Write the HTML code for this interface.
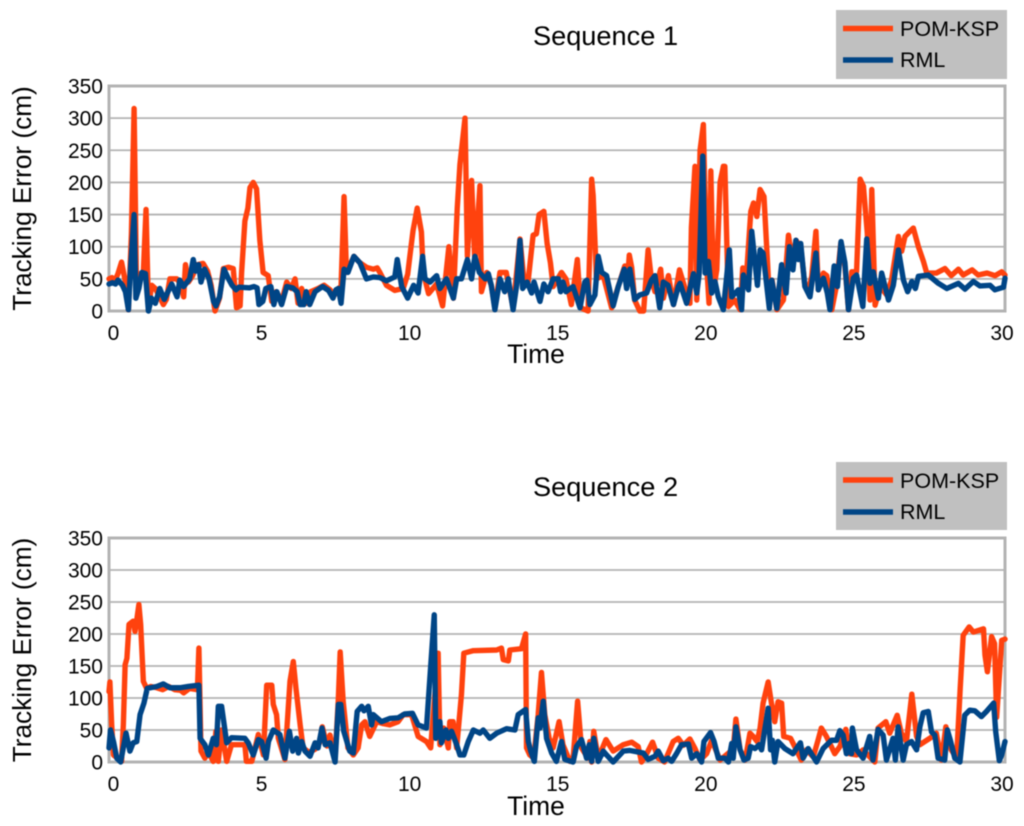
<!DOCTYPE html>
<html lang="en">
<head>
<meta charset="utf-8">
<title>Tracking Error Charts</title>
<style>
html,body{margin:0;padding:0;background:#fff;}
svg{display:block;font-family:"Liberation Sans",Arial,sans-serif;fill:#000;filter:blur(0.4px);}
</style>
</head>
<body>
<svg id="figure" xmlns="http://www.w3.org/2000/svg" width="1024" height="826" viewBox="0 0 1024 826">
  <g id="chart1">
    <text x="605.5" y="45" font-size="27.2" text-anchor="middle">Sequence 1</text>
    <text transform="translate(31,198.5) rotate(-90)" font-size="26.2" text-anchor="middle">Tracking Error (cm)</text>
    <text x="536" y="363" font-size="26.4" text-anchor="middle">Time</text>
    <g id="plot1"></g>
    <g>
      <rect x="836" y="10" width="171" height="69" fill="#c0c0c0"></rect>
      <line x1="843" x2="893" y1="28.5" y2="28.5" stroke="#ff420e" stroke-width="5.5"></line>
      <text x="900" y="36" font-size="21.5">POM-KSP</text>
      <line x1="843" x2="893" y1="60" y2="60" stroke="#004586" stroke-width="5.5"></line>
      <text x="900" y="67" font-size="21.5">RML</text>
    </g>
  </g>
  <g id="chart2">
    <text x="605.5" y="496" font-size="27.2" text-anchor="middle">Sequence 2</text>
    <text transform="translate(31,650) rotate(-90)" font-size="26.2" text-anchor="middle">Tracking Error (cm)</text>
    <text x="536" y="815" font-size="26.4" text-anchor="middle">Time</text>
    <g id="plot2"></g>
    <g>
      <rect x="836" y="462" width="171" height="68" fill="#c0c0c0"></rect>
      <line x1="843" x2="893" y1="480" y2="480" stroke="#ff420e" stroke-width="5.5"></line>
      <text x="900" y="488" font-size="21.5">POM-KSP</text>
      <line x1="843" x2="893" y1="512" y2="512" stroke="#004586" stroke-width="5.5"></line>
      <text x="900" y="519" font-size="21.5">RML</text>
    </g>
  </g>
</svg>
<script>
const yTickValues = [0, 50, 100, 150, 200, 250, 300, 350];
const xTickValues = [0, 5, 10, 15, 20, 25, 30];

const seq1PomTime = [
0,.1,.2,.3,.42,.55,.65,.75,.84,.92,
1.05,1.15,1.24,1.32,1.43,1.55,1.66,1.82,1.92,2.04,
2.27,2.4,2.5,2.56,2.66,2.8,2.95,3.15,3.3,3.42,
3.55,3.7,3.83,4.0,4.16,4.27,4.39,4.44,4.55,4.65,
4.72,4.83,4.94,5.05,5.16,5.33,5.45,5.6,5.78,5.95,
6.1,6.23,6.33,6.45,6.6,6.75,7.0,7.2,7.4,7.55,
7.68,7.77,7.87,7.95,8.2,8.4,8.62,8.85,8.98,9.07,
9.29,9.57,9.85,10.0,10.07,10.18,10.32,10.46,10.52,10.7,
10.97,11.17,11.38,11.53,11.66,11.75,11.92,12.0,12.14,12.25,
12.42,12.47,12.65,12.8,12.92,13.09,13.3,13.53,13.76,13.88,
14.03,14.2,14.31,14.4,14.56,14.67,14.78,14.87,15.15,15.3,
15.48,15.68,15.79,16.04,16.16,16.21,16.32,16.55,16.83,17.05,
17.27,17.35,17.42,17.5,17.6,17.77,17.9,18.05,18.16,18.28,
18.47,18.56,18.73,18.9,19.1,19.27,19.45,19.5,19.62,19.68,
19.79,19.9,20.0,20.09,20.15,20.24,20.35,20.46,20.57,20.62,
20.74,20.95,21.13,21.22,21.35,21.49,21.58,21.69,21.8,21.93,
22.08,22.2,22.36,22.58,22.75,22.88,23.0,23.16,23.3,23.42,
23.53,23.67,23.75,23.92,24.03,24.2,24.36,24.5,24.64,24.76,
24.87,25.03,25.15,25.26,25.39,25.48,25.54,25.65,25.82,26.04,
26.2,26.43,26.54,26.65,26.82,26.93,27.1,27.27,27.38,27.7,
27.99,28.2,28.44,28.6,28.9,29.1,29.4,29.67,29.89,30
];
const seq1PomError = [
50,52,47,58,76,45,2,120,315,40,
58,60,158,5,40,35,25,10,18,50,
50,42,22,72,45,55,72,74,62,40,
0,20,66,68,66,5,8,60,140,160,
192,200,190,110,60,55,15,30,15,45,
35,50,12,35,12,30,35,40,33,25,
35,38,178,60,85,75,68,65,67,60,
40,32,35,57,84,125,160,123,60,27,
42,8,100,20,160,228,300,85,203,75,
195,30,60,40,5,60,60,5,112,55,
45,118,120,150,155,105,75,38,60,50,
10,80,5,0,205,180,50,55,5,38,
70,40,87,68,17,0,0,95,50,30,
65,20,55,10,64,38,12,130,225,17,
250,290,80,12,218,33,64,200,225,225,
7,17,2,67,59,155,168,147,189,178,
48,48,2,17,118,75,110,100,40,33,
54,124,33,59,55,2,40,105,70,2,
61,61,205,194,121,17,189,9,38,25,
48,116,93,116,124,129,100,77,59,59,
66,55,65,56,64,56,59,55,61,56
];

const seq1RmlTime = [
0,.12,.22,.3,.45,.55,.65,.72,.84,.9,
1.0,1.1,1.22,1.32,1.42,1.55,1.7,1.85,2.1,2.28,
2.37,2.5,2.7,2.82,2.9,3.0,3.08,3.2,3.35,3.5,
3.58,3.7,3.85,4.0,4.12,4.25,4.35,4.7,4.85,4.96,
5.02,5.15,5.25,5.42,5.52,5.62,5.78,5.95,6.15,6.3,
6.4,6.52,6.6,6.72,6.9,7.15,7.35,7.5,7.6,7.68,
7.77,7.87,8.0,8.2,8.4,8.62,8.85,9.07,9.29,9.57,
9.65,9.8,10.0,10.2,10.35,10.5,10.58,10.75,10.97,11.08,
11.3,11.53,11.64,11.8,12.0,12.14,12.25,12.4,12.6,12.7,
12.8,12.92,13.09,13.25,13.37,13.53,13.65,13.76,13.85,14.0,
14.15,14.23,14.43,14.56,14.7,14.87,15.04,15.12,15.2,15.3,
15.54,15.77,15.93,16.0,16.1,16.27,16.38,16.5,16.66,16.88,
17.05,17.25,17.33,17.44,17.6,17.77,18.0,18.16,18.28,18.44,
18.56,18.72,18.9,19.06,19.12,19.34,19.57,19.68,19.76,19.88,
19.96,20.07,20.18,20.29,20.4,20.57,20.77,20.85,21.07,21.18,
21.24,21.41,21.52,21.71,21.8,21.9,22.11,22.19,22.36,22.52,
22.67,22.78,22.9,23.0,23.08,23.16,23.3,23.47,23.67,23.75,
23.92,24.05,24.14,24.28,24.39,24.51,24.64,24.76,24.92,25.03,
25.24,25.37,25.48,25.59,25.76,25.87,26.1,26.26,26.43,26.6,
26.74,26.88,27.0,27.1,27.43,27.77,28.05,28.44,28.66,28.94,
29.16,29.5,29.66,29.95,30
];
const seq1RmlError = [
42,44,42,48,40,30,2,65,150,20,
35,60,58,0,20,12,35,18,42,22,
48,38,50,80,62,72,45,65,50,15,
8,22,65,50,40,33,37,36,38,36,
10,15,35,38,10,30,10,38,36,30,
10,10,30,10,30,38,32,20,33,35,
12,65,60,85,75,50,53,52,47,53,
80,38,20,40,28,85,50,45,55,35,
50,20,50,50,80,50,85,60,50,58,
40,2,50,30,50,2,40,110,35,45,
28,45,15,42,30,50,50,30,45,30,
38,5,45,48,10,25,85,60,55,8,
38,65,35,65,18,25,28,48,55,5,
45,40,10,38,43,12,58,28,58,241,
59,77,28,46,22,2,95,22,33,2,
56,33,124,40,95,90,4,48,4,72,
28,100,64,110,80,105,38,22,90,33,
51,28,2,70,38,108,75,2,51,56,
7,112,43,61,20,59,17,40,95,48,
30,46,35,54,56,43,35,43,34,46,
39,40,33,37,51
];

const seq2PomTime = [
0,.03,.09,.15,.42,.48,.54,.6,.67,.81,
.87,.93,1.0,1.06,1.15,1.26,1.4,1.6,1.8,2.0,
2.2,2.4,2.5,2.7,2.96,3.01,3.08,3.21,3.33,3.49,
3.58,3.66,3.77,3.94,4.1,4.55,4.6,4.78,5.0,5.17,
5.28,5.45,5.5,5.61,5.67,5.89,6.06,6.17,6.26,6.4,
6.5,6.7,6.9,7.05,7.14,7.3,7.4,7.57,7.68,7.74,
7.84,8.0,8.18,8.34,8.46,8.57,8.73,8.96,9.18,9.4,
9.68,9.85,10.13,10.35,10.63,10.77,11.02,11.08,11.21,11.36,
11.41,11.52,11.64,11.8,11.88,12.2,12.98,13.14,13.2,13.37,
13.42,13.81,13.95,13.98,14.09,14.22,14.37,14.48,14.59,14.74,
14.87,15.07,15.2,15.43,15.54,15.69,15.82,16.04,16.1,16.16,
16.23,16.38,16.64,16.88,17.22,17.5,17.72,17.83,17.98,18.2,
18.39,18.6,18.89,19.06,19.23,19.45,19.62,19.79,20.01,20.18,
20.46,20.9,20.99,21.13,21.3,21.46,21.57,21.7,21.8,21.9,
22.07,22.18,22.29,22.4,22.52,22.59,22.82,22.96,23.18,23.35,
23.58,23.74,23.85,24.02,24.3,24.47,24.67,24.8,25.03,25.25,
25.47,25.64,25.75,26.01,26.14,26.39,26.53,26.7,26.88,27.04,
27.15,27.48,27.7,27.87,28.02,28.2,28.38,28.5,28.6,28.8,
28.94,29.28,29.33,29.41,29.55,29.65,29.72,29.89,30
];
const seq2PomError = [
110,125,58,11,1,58,152,162,215,220,
204,222,246,215,126,115,118,116,113,118,
113,112,108,115,113,178,17,6,15,1,
48,1,50,1,27,27,1,1,43,11,
120,120,90,74,37,4,126,157,115,58,
22,15,20,30,55,25,42,6,100,172,
95,22,11,22,58,63,40,63,60,58,
63,74,74,40,32,22,170,27,53,22,
63,63,22,105,170,174,175,178,160,158,
175,177,200,22,11,6,74,140,74,37,
22,63,27,1,6,95,22,6,32,0,
48,6,35,17,27,31,24,0,11,31,
6,0,32,37,26,36,21,3,13,34,
3,20,67,19,3,45,40,32,53,92,
125,92,63,94,92,40,37,24,3,19,
8,34,53,40,13,24,51,13,11,19,
8,0,53,63,45,73,45,32,106,40,
27,37,45,3,55,19,6,115,198,211,
203,208,167,141,196,185,70,190,192
];

const seq2RmlTime = [
0,.05,.15,.26,.39,.57,.7,.81,.93,1.04,
1.17,1.28,1.6,1.82,2.04,2.38,2.66,3.01,3.05,3.21,
3.33,3.49,3.6,3.66,3.77,3.94,4.1,4.55,4.66,4.83,
5.0,5.11,5.26,5.34,5.5,5.72,5.89,6.04,6.15,6.28,
6.34,6.45,6.56,6.73,6.9,7.0,7.13,7.24,7.4,7.57,
7.68,7.76,7.86,8.06,8.18,8.31,8.46,8.54,8.68,8.79,
8.85,9.12,9.4,9.68,9.9,10.16,10.35,10.63,10.72,10.89,
10.94,11.08,11.13,11.28,11.36,11.47,11.64,11.75,11.88,12.03,
12.2,12.42,12.53,12.75,12.98,13.31,13.59,13.7,13.95,14.04,
14.12,14.24,14.37,14.43,14.54,14.65,14.82,14.98,15.15,15.26,
15.54,15.65,15.82,15.99,16.08,16.16,16.23,16.38,16.55,16.66,
16.88,17.22,17.44,17.89,18.05,18.28,18.39,18.56,18.72,18.84,
19.0,19.17,19.4,19.51,19.68,19.84,19.92,20.14,20.26,20.4,
20.62,20.74,20.85,20.9,20.99,21.13,21.26,21.4,21.48,21.63,
21.77,21.85,22.07,22.15,22.21,22.29,22.4,22.63,22.9,23.15,
23.24,23.41,23.69,23.91,24.19,24.36,24.47,24.58,24.69,24.78,
24.86,24.89,25.03,25.25,25.47,25.58,25.75,25.92,26.03,26.25,
26.33,26.42,26.59,26.7,26.87,27.04,27.15,27.26,27.43,27.54,
27.65,27.76,27.98,28.07,28.17,28.32,28.49,28.65,28.82,28.99,
29.21,29.38,29.62,29.69,29.81,29.89,30
];
const seq2RmlError = [
22,50,32,6,0,45,17,30,32,74,
92,115,118,122,116,116,118,120,37,27,
11,37,27,87,87,30,38,37,30,11,
35,32,6,32,50,43,6,48,17,37,
14,32,17,9,30,22,53,27,30,0,
90,90,48,17,14,79,87,80,87,58,
74,63,68,69,75,76,58,53,115,230,
37,63,30,50,37,48,27,11,11,32,
50,45,50,37,45,52,50,74,82,32,
17,1,69,53,95,37,14,1,32,4,
0,24,35,6,27,1,37,1,17,11,
0,17,18,14,4,9,17,2,6,1,
13,27,28,6,13,0,32,46,32,6,
6,0,29,6,55,19,3,6,24,21,
27,19,84,19,34,0,32,21,13,30,
6,21,0,21,34,34,49,42,13,29,
13,53,19,6,40,3,51,42,3,37,
3,55,3,27,32,19,55,77,79,47,
42,6,3,50,34,6,0,73,81,80,
71,79,92,47,2,11,32
];

const SVG_NS = 'http://www.w3.org/2000/svg';
const X_MAX = 30;
const Y_MAX = 350;

function makeX(left, right) {
  return function (t) { return left + (right - left) * t / X_MAX; };
}
function makeY(top, bottom) {
  return function (v) { return bottom - (bottom - top) * v / Y_MAX; };
}

function drawGridline(parent, left, right, y, width) {
  const line = document.createElementNS(SVG_NS, 'line');
  
  
  line.setAttribute('x1', left);
  line.setAttribute('x2', right);
  line.setAttribute('y1', y);
  line.setAttribute('y2', y);
  line.setAttribute('stroke', '#b3b3b3');
  line.setAttribute('stroke-width', width);
  parent.appendChild(line);
}

function drawFrame(parent, left, right, top, bottom) {
  const rect = document.createElementNS(SVG_NS, 'rect');
  
  
  rect.setAttribute('x', left);
  rect.setAttribute('y', top);
  rect.setAttribute('width', right - left);
  rect.setAttribute('height', bottom - top);
  rect.setAttribute('fill', 'none');
  rect.setAttribute('stroke', '#b3b3b3');
  rect.setAttribute('stroke-width', '3');
  parent.appendChild(rect);
}

function drawYTick(parent, y, label) {
  const text = document.createElementNS(SVG_NS, 'text');
  
  
  text.setAttribute('x', 103);
  text.setAttribute('y', y + 7.5);
  text.setAttribute('font-size', '21');
  text.setAttribute('text-anchor', 'end');
  text.textContent = label;
  parent.appendChild(text);
}

function drawXTick(parent, x, y, label) {
  const text = document.createElementNS(SVG_NS, 'text');
  
  
  text.setAttribute('x', x);
  text.setAttribute('y', y);
  text.setAttribute('font-size', '21');
  text.setAttribute('text-anchor', 'middle');
  text.textContent = label;
  parent.appendChild(text);
}

function drawSeries(parent, name, times, values, color, xScale, yScale) {
  const count = Math.min(times.length, values.length);
  const pts = [];
  for (let i = 0; i < count; i++) {
    pts.push(xScale(times[i]).toFixed(2) + ',' + yScale(values[i]).toFixed(2));
  }
  const line = document.createElementNS(SVG_NS, 'polyline');
  
  
  line.setAttribute('points', pts.join(' '));
  line.setAttribute('fill', 'none');
  line.setAttribute('stroke', color);
  line.setAttribute('stroke-width', '5.4');
  line.setAttribute('stroke-linejoin', 'round');
  line.setAttribute('stroke-linecap', 'round');
  parent.appendChild(line);
}

function drawChart(groupId, top, bottom, xLabelY, pomTimes, pomValues, rmlTimes, rmlValues) {
  const group = document.getElementById(groupId);
  const left = 109, right = 1005;
  const xScale = makeX(left, right);
  const yScale = makeY(top, bottom);
  const xLabelScale = makeX(113.5, 1002);
  yTickValues.forEach(function (v) {
    if (v > 0 && v < Y_MAX) drawGridline(group, left, right, yScale(v), 1.8);
    drawYTick(group, yScale(v), String(v));
  });
  drawFrame(group, left, right, top, bottom);
  xTickValues.forEach(function (t) {
    drawXTick(group, xLabelScale(t), xLabelY, String(t));
  });
  drawSeries(group, 'series-pom-ksp', pomTimes, pomValues, '#ff420e', xScale, yScale);
  drawSeries(group, 'series-rml', rmlTimes, rmlValues, '#004586', xScale, yScale);
}

drawChart('plot1', 86, 311, 340, seq1PomTime, seq1PomError, seq1RmlTime, seq1RmlError);
drawChart('plot2', 538, 762, 791, seq2PomTime, seq2PomError, seq2RmlTime, seq2RmlError);
</script>
</body>
</html>
